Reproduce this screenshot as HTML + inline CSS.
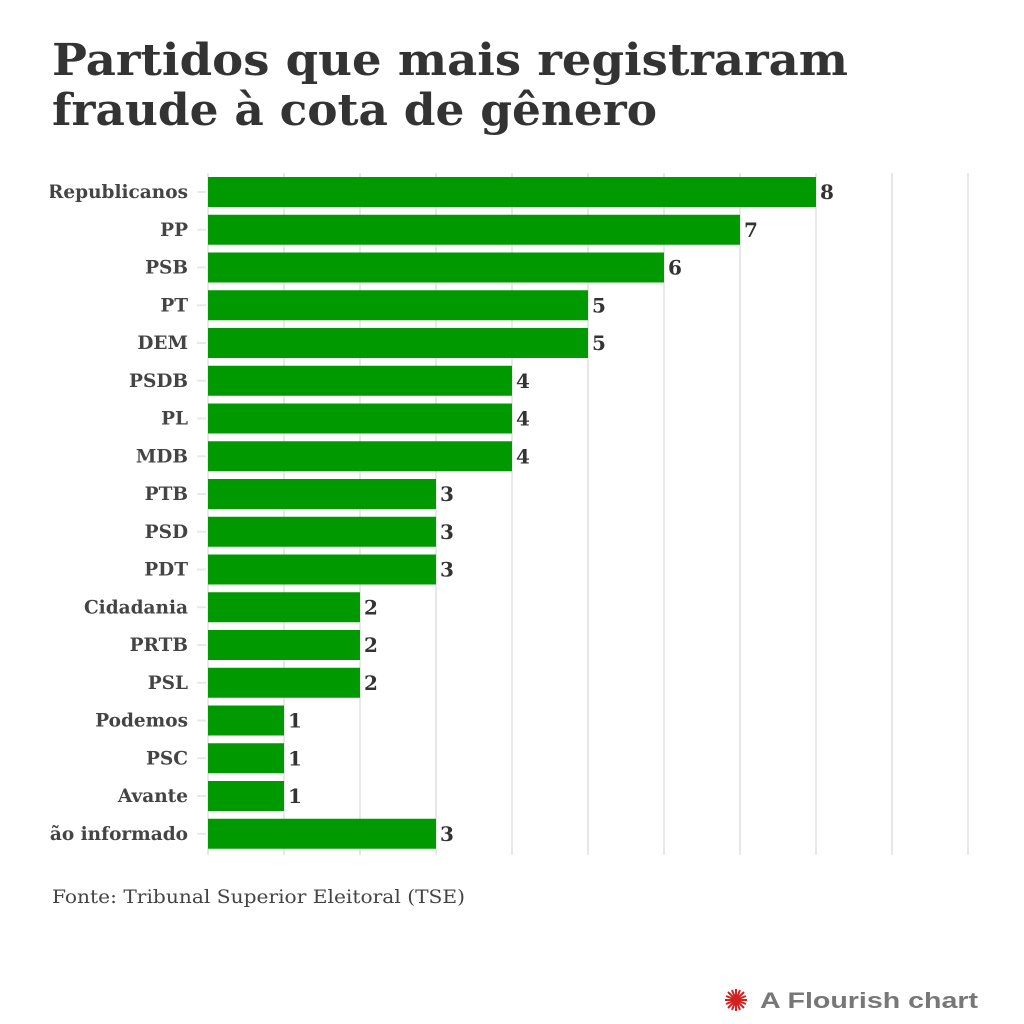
<!DOCTYPE html>
<html><head><meta charset="utf-8"><style>
html,body{margin:0;padding:0;background:#fff;width:1024px;height:1024px;overflow:hidden}
svg{display:block}
</style></head><body>
<svg width="1024" height="1024" viewBox="0 0 1024 1024" xmlns="http://www.w3.org/2000/svg">
<defs><clipPath id="lc"><rect x="50" y="160" width="160" height="700"/></clipPath></defs>
<g font-family="'DejaVu Serif','Liberation Serif',serif" font-weight="bold" fill="#333">
<text x="52" y="75" font-size="44" textLength="796" lengthAdjust="spacingAndGlyphs">Partidos que mais registraram</text>
<text x="52" y="125" font-size="44" textLength="605" lengthAdjust="spacingAndGlyphs">fraude à cota de gênero</text>
</g>
<g stroke="#e8e8e8" stroke-width="2">
<line x1="208" y1="173" x2="208" y2="855"/><line x1="284" y1="173" x2="284" y2="855"/>
<line x1="360" y1="173" x2="360" y2="855"/><line x1="436" y1="173" x2="436" y2="855"/>
<line x1="512" y1="173" x2="512" y2="855"/><line x1="588" y1="173" x2="588" y2="855"/>
<line x1="664" y1="173" x2="664" y2="855"/><line x1="740" y1="173" x2="740" y2="855"/>
<line x1="816" y1="173" x2="816" y2="855"/><line x1="892" y1="173" x2="892" y2="855"/>
<line x1="968" y1="173" x2="968" y2="855"/>
</g>
<g id="rows" font-family="'DejaVu Serif','Liberation Serif',serif" font-weight="bold"></g>
<text x="52" y="903" font-family="'DejaVu Serif','Liberation Serif',serif" font-size="19" fill="#444" textLength="413" lengthAdjust="spacingAndGlyphs">Fonte: Tribunal Superior Eleitoral (TSE)</text>
<g transform="translate(736,1000)" stroke="#d42020" stroke-width="2">
<line x1="-11" y1="0" x2="11" y2="0"/><line x1="0" y1="-11" x2="0" y2="11"/>
<line x1="-8" y1="-8" x2="8" y2="8"/><line x1="-8" y1="8" x2="8" y2="-8"/>
<line x1="-10" y1="-4" x2="10" y2="4"/><line x1="-10" y1="4" x2="10" y2="-4"/>
<line x1="-4" y1="-10" x2="4" y2="10"/><line x1="4" y1="-10" x2="-4" y2="10"/>
<circle r="4" fill="#d42020" stroke="none"/>
</g>
<text x="760" y="1008" font-family="'Liberation Sans',sans-serif" font-weight="bold" font-size="22" fill="#777" textLength="218" lengthAdjust="spacingAndGlyphs">A Flourish chart</text>
</svg>
<script>
var d=[["Republicanos",8],["PP",7],["PSB",6],["PT",5],["DEM",5],["PSDB",4],["PL",4],["MDB",4],["PTB",3],["PSD",3],["PDT",3],["Cidadania",2],["PRTB",2],["PSL",2],["Podemos",1],["PSC",1],["Avante",1],["Não informado",3]];
var g=document.getElementById('rows'),s='';
d.forEach(function(r,i){var c=192+i*37.75,w=r[1]*76;
s+='<line x1="197" x2="206" y1="'+c+'" y2="'+c+'" stroke="#e8e8e8" stroke-width="2"/>';
s+='<rect x="208" y="'+(c-15)+'" width="'+w+'" height="30" fill="#009900"/>';
s+='<text clip-path="url(#lc)" x="188" y="'+(c+6)+'" text-anchor="end" font-size="18.5" fill="#444">'+r[0]+'</text>';
s+='<text x="'+(212+w)+'" y="'+(c+7)+'" font-size="20" fill="#333">'+r[1]+'</text>';});
g.innerHTML=s;
</script>
</body></html>
